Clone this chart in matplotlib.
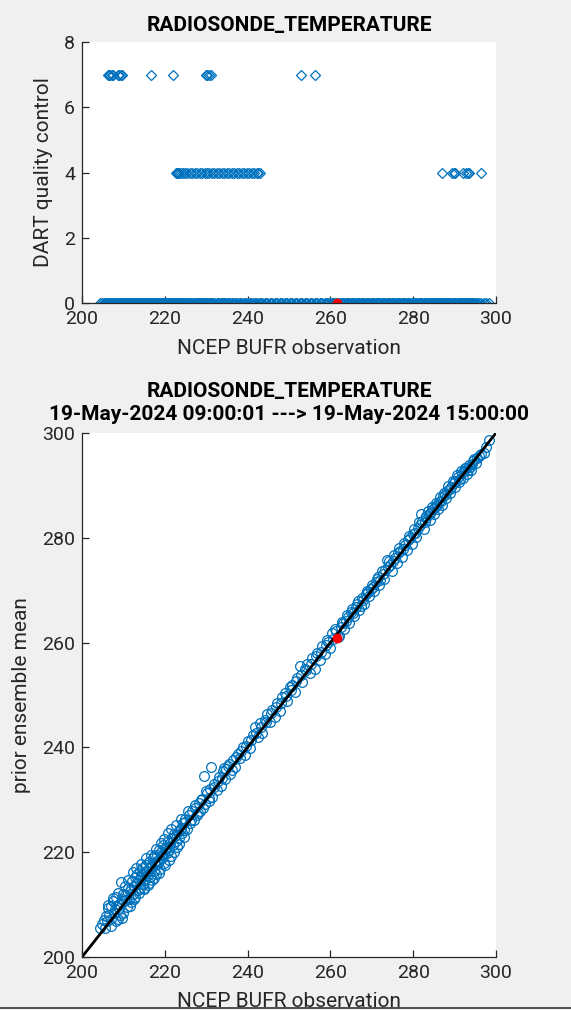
import numpy as np
import matplotlib.pyplot as plt
from matplotlib.lines import Line2D

plt.rcParams['font.family'] = ['Roboto', 'DejaVu Sans']

# observation / prior ensemble mean pairs (qc = 0)
obs = [204.3, 204.8, 205.5, 205.9, 206.2, 206.6, 206.9, 207.1, 207.4, 207.8,
       208.0, 208.3, 208.6, 208.9, 209.2, 209.4, 209.7, 209.9, 210.2, 210.5,
       210.8, 211.0, 211.3, 211.6, 211.9,
       212.1, 212.3, 212.5, 212.7, 212.9, 213.1, 213.3, 213.5, 213.7, 213.9,
       214.1, 214.3, 214.5, 214.7, 214.9, 215.1, 215.3, 215.5, 215.7, 215.9,
       216.1, 216.3, 216.5, 216.7, 216.9, 217.1, 217.3, 217.5, 217.7, 217.9,
       218.1, 218.3, 218.5, 218.7, 218.9, 219.1, 219.3, 219.5, 219.7, 219.9,
       220.2, 220.5, 220.8, 221.1, 221.4, 221.7, 222.0, 222.3, 222.6, 222.9,
       223.2, 223.5, 223.8, 224.1, 224.4, 224.7,
       225.0, 225.4, 225.8, 226.2, 226.6, 227.0, 227.4, 227.8, 228.2, 228.6,
       229.0, 229.5, 229.8, 230.2, 230.6, 231.0, 231.2, 231.5, 232.0, 232.5,
       233.0, 233.5, 234.0, 234.3, 234.6, 235.2, 235.8, 236.4, 237.0, 237.6,
       238.2, 238.8, 239.4, 240.0, 240.6, 241.2, 241.8, 242.4, 243.0, 243.6,
       244.2, 244.8, 245.4, 246.0, 246.6, 247.2, 247.8, 248.4, 249.0, 249.6,
       250.2, 250.8, 251.4, 252.0, 252.6, 253.2, 253.8, 254.4, 255.0, 255.6,
       256.2, 256.8, 257.4, 258.0, 258.6, 259.2, 259.8,
       260.4, 261.0, 262.2, 262.8, 263.4, 264.0, 264.6, 265.2, 265.8, 266.4,
       267.0, 267.6, 268.2, 268.8, 269.4, 270.0, 270.6, 271.2, 271.8, 272.4,
       273.0, 273.6, 274.2, 274.8, 275.4, 276.0, 276.6, 277.2, 277.8, 278.4,
       279.0, 279.6, 280.2, 280.8, 281.4, 282.0, 282.5, 283.0, 283.5, 284.0,
       284.5, 285.0, 285.5, 286.0, 286.5, 287.0, 287.5, 288.0, 288.5, 289.0,
       289.5, 290.0, 290.5, 291.0, 291.5, 292.0, 292.5, 293.0, 293.5, 294.0,
       294.5, 295.2, 296.0, 297.0, 298.2]
prior = [205.5, 206.2, 205.6, 207.8, 209.3, 208.0, 205.9, 209.8, 210.6, 208.3,
         209.1, 211.5, 207.2, 210.2, 208.0, 214.4, 207.4, 212.1, 210.6, 211.8,
         209.5, 213.2, 211.0, 212.6, 210.4,
         214.5, 212.0, 213.6, 215.2, 211.5, 213.9, 215.8, 212.7, 214.6, 216.4,
         213.1, 215.3, 217.0, 214.0, 212.9, 216.2, 214.8, 217.6, 215.5, 213.8,
         216.9, 218.2, 215.3, 217.4, 214.6, 218.8, 216.5, 219.3, 217.8, 215.9,
         219.5, 217.9, 220.4, 218.3, 216.8, 220.1, 218.9, 221.3, 219.6, 218.0,
         221.0, 219.8, 222.2, 220.5, 219.2, 222.7, 221.4, 223.5, 222.1, 220.9,
         223.9, 222.8, 224.7, 223.6, 225.5, 224.2,
         226.3, 224.5, 227.0, 225.6, 227.8, 226.2, 228.5, 227.1, 229.4, 227.9,
         230.2, 234.5, 229.1, 231.3, 229.8, 232.0, 236.3, 230.6, 233.1, 231.8,
         234.3, 232.6, 235.4, 236.1, 233.9, 236.5, 235.0, 237.6, 236.3, 238.7,
         237.9, 240.0, 238.6, 241.2, 239.8, 242.4, 243.8, 241.9, 244.6, 242.8,
         245.3, 246.4, 244.9, 247.2, 245.8, 248.5, 247.0, 249.6, 250.3, 248.8,
         251.5, 252.0, 250.6, 253.2, 255.5, 252.4, 254.9, 256.0, 254.2, 257.1,
         255.0, 258.0, 256.6, 259.3, 257.8, 260.5, 258.9,
         261.8, 262.6, 261.2, 263.9, 262.5, 265.2, 263.8, 266.4, 265.1, 267.3,
         266.2, 268.5, 267.4, 269.9, 268.8, 271.0, 269.9, 272.1, 271.0, 273.6,
         272.2, 275.7, 275.5, 273.6, 276.8, 275.1, 278.0, 276.4, 279.1, 277.6,
         280.4, 278.9, 281.6, 280.1, 283.0, 284.6, 281.7, 284.1, 285.2, 283.3,
         285.8, 284.6, 286.7, 285.4, 287.8, 286.2, 288.6, 287.5, 289.8, 288.6,
         290.9, 289.7, 292.0, 290.6, 292.7, 291.4, 293.4, 292.2, 293.9, 293.0,
         294.6, 294.2, 295.7, 296.2, 298.6]

obs_b = [205.2, 206.0, 206.4, 207.0, 207.6, 208.2, 208.8, 209.0, 209.6, 210.0,
         210.4, 210.7, 211.2, 211.5, 211.8, 212.2, 212.6, 213.0, 213.4, 213.8,
         214.2, 214.6, 215.0, 215.4, 215.8, 216.2, 216.6, 217.0, 217.4, 217.8,
         218.2, 218.6, 219.0, 219.4, 219.8, 220.0, 220.4, 220.7, 221.0, 221.3,
         221.6, 222.2, 222.5, 222.8, 223.4, 223.7, 224.0, 224.6, 224.9,
         225.6, 226.4, 227.2, 228.0, 228.8, 229.3, 230.0, 230.8, 231.8, 232.8,
         233.8, 234.8, 235.5, 236.2, 237.3, 238.5, 239.7, 240.9, 242.0, 243.3,
         244.5, 245.7, 246.9, 248.1, 249.3, 250.5, 251.7, 252.9, 254.1, 255.3,
         256.5, 257.7, 258.9, 259.5,
         260.7, 261.3, 261.9, 262.5, 263.1, 263.7, 264.3, 264.9, 265.5, 266.1,
         266.7, 267.3, 267.9, 268.5, 269.1, 269.7, 270.3, 270.9, 271.5, 272.1,
         272.7, 273.3, 273.9, 274.5, 275.1, 275.7, 276.3, 276.9, 277.5, 278.1,
         278.7, 279.3, 279.9, 280.5, 281.1, 281.7, 282.2, 282.8, 283.2, 283.8,
         284.2, 284.8, 285.2, 285.8, 286.2, 286.8, 287.2, 287.8, 288.2, 288.8,
         289.2, 289.8, 290.2, 290.8, 291.2, 291.8, 292.2, 292.8, 293.2, 293.8,
         294.2, 294.8, 295.5, 296.5, 297.5]
prior_b = [207.0, 206.8, 210.0, 207.3, 211.2, 206.9, 212.3, 209.3, 211.0, 208.3,
           213.6, 210.9, 214.6, 209.8, 213.0, 216.3, 211.0, 217.0, 214.1, 212.2,
           217.8, 215.6, 213.2, 218.8, 216.5, 214.1, 219.5, 217.2, 215.0, 220.6,
           218.4, 216.1, 221.8, 219.4, 222.6, 217.6, 220.7, 223.6, 218.6, 221.8,
           224.4, 220.1, 223.0, 225.1, 221.6, 224.3, 226.3, 222.9, 225.8,
           227.9, 226.1, 229.0, 227.4, 230.0, 228.4, 231.6, 230.4, 232.4, 233.6,
           234.2, 235.9, 236.9, 235.6, 238.1, 239.4, 240.3, 241.5, 242.7, 243.9,
           244.8, 246.5, 247.7, 248.4, 249.8, 251.0, 252.6, 253.9, 254.7, 255.9,
           257.4, 258.2, 259.6, 260.2,
           260.6, 262.3, 261.0, 263.0, 263.8, 264.2, 264.9, 265.9, 265.6, 266.7,
           267.9, 267.0, 268.2, 269.3, 269.6, 270.2, 270.6, 271.5, 272.6, 272.0,
           273.0, 273.9, 274.4, 274.8, 275.6, 276.2, 277.1, 277.4, 277.8, 278.7,
           279.5, 280.0, 280.8, 281.0, 281.8, 282.4, 283.2, 283.0, 283.8, 284.6,
           285.0, 285.4, 285.9, 286.2, 286.9, 287.1, 287.9, 288.2, 288.9, 289.3,
           289.7, 290.4, 290.8, 291.6, 291.2, 292.3, 292.8, 293.3, 292.9, 293.6,
           294.0, 295.0, 295.2, 296.0, 297.3]

# observations rejected by DART quality control
obs_qc4 = [222.6, 222.9, 223.2, 223.5, 223.9, 224.3, 224.8, 225.4, 226.0, 226.6,
           227.2, 227.8, 228.4, 229.0, 229.6, 230.2, 230.8, 231.4, 232.0, 232.6,
           233.2, 233.8, 234.4, 235.0, 235.6, 236.2, 236.8, 237.4, 238.0, 238.6,
           239.2, 239.8, 240.4, 241.0, 241.6, 242.2, 242.6, 243.0,
           287.0, 289.3, 289.8, 290.2, 292.0, 292.8, 293.2, 293.6, 296.5]
obs_qc7 = [206.2, 206.5, 206.8, 207.2, 207.5, 208.6, 209.0, 209.4, 209.7,
           216.6, 221.9, 229.9, 230.3, 230.7, 231.2, 253.0, 256.2]

# highlighted observation
sel_obs = 261.6
sel_prior = 260.9

title = 'RADIOSONDE_TEMPERATURE'
subtitle = '19-May-2024 09:00:01 ---> 19-May-2024 15:00:00'

blue = '#0072BD'
ink = '#262626'

obs_all = obs + obs_b
prior_all = prior + prior_b

fig = plt.figure(figsize=(5.71, 10.10), dpi=100, facecolor='#f0f0f0')

def style(ax):
    for s in ['top', 'right']:
        ax.spines[s].set_visible(False)
    for s in ['left', 'bottom']:
        ax.spines[s].set_color(ink)
        ax.spines[s].set_linewidth(0.9)
    ax.tick_params(direction='in', length=5, width=0.9, colors=ink,
                   labelsize=14, pad=5)

# top: quality control vs observation
ax1 = fig.add_axes([0.1436, 0.7, 0.725, 0.2584])
qc_all = [0] * len(obs_all) + [4] * len(obs_qc4) + [7] * len(obs_qc7)
ax1.plot(obs_all + obs_qc4 + obs_qc7, qc_all, 'D', ms=5.5, mfc='none',
         mec=blue, mew=0.9)
ax1.plot(sel_obs, 0, 'o', ms=6, color='red')
ax1.set_xlim(200, 300)
ax1.set_ylim(0, 8)
ax1.set_xticks(range(200, 301, 20))
ax1.set_yticks(range(0, 9, 2))
ax1.set_xlabel('NCEP BUFR observation', fontsize=15, color=ink, labelpad=8)
ax1.set_ylabel('DART quality control', fontsize=15, color=ink, labelpad=8)
ax1.set_title(title, fontsize=15, fontweight='bold', pad=8)
style(ax1)

# bottom: prior ensemble mean vs observation
ax2 = fig.add_axes([0.1436, 0.0525, 0.725, 0.5188])
ax2.plot(obs_all, prior_all, 'o', ms=7, mfc='none', mec=blue, mew=0.9)
ax2.plot([200, 300], [200, 300], '-', color='black', lw=2)
ax2.plot(sel_obs, sel_prior, 'o', ms=6, color='red')
ax2.set_xlim(200, 300)
ax2.set_ylim(200, 300)
ax2.set_xticks(range(200, 301, 20))
ax2.set_yticks(range(200, 301, 20))
ax2.set_xlabel('NCEP BUFR observation', fontsize=15, color=ink, labelpad=7)
ax2.set_ylabel('prior ensemble mean', fontsize=15, color=ink, labelpad=8)
ax2.set_title(title + '\n' + subtitle, fontsize=15, fontweight='bold',
              pad=9, linespacing=1.3)
style(ax2)

# window border at the bottom edge
fig.add_artist(Line2D([0, 1], [0.0015, 0.0015], color='#333333', lw=1.2))

fig.savefig('out.png', dpi=100, facecolor=fig.get_facecolor())
